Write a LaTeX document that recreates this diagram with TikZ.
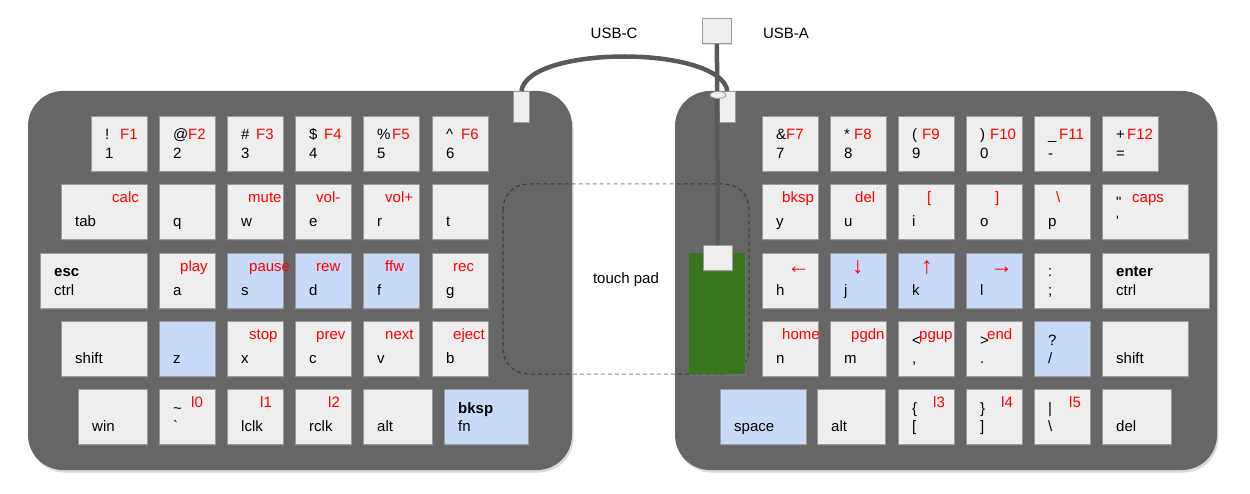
\documentclass[tikz,border=0pt]{standalone}
\usepackage{fontspec}
\setmainfont{Liberation Sans}
\usetikzlibrary{shadows}

% one key: name, left, top, width, fill, top legend, bottom legend, red legend, red offset
\newcommand{\kbkey}[9]{%
\node[keycap, fill=#5, minimum width=#4pt] (#1) at (#2,#3) {};
\node[legend] (#1-t) at ([shift={(14,24)}]#1.north west) {#6};
\node[legend] (#1-b) at ([shift={(14,42.5)}]#1.north west) {#7};
\node[legend, text=red] (#1-r) at ([shift={#9}]#1.north west) {#8};}
\newcommand{\bigarrow}[1]{{\fontsize{23}{24}\selectfont #1}}

\begin{document}
\begin{tikzpicture}[x=1pt, y=-1pt,
  board/.style={fill=boardc, rounded corners=35pt, drop shadow={opacity=0.3, shadow xshift=1.5pt, shadow yshift=-2.5pt}},
  keycap/.style={draw=keyline, line width=0.8pt, anchor=north west, minimum height=55pt, inner sep=0pt, drop shadow={opacity=0.4, shadow xshift=1pt, shadow yshift=-1.5pt}},
  legend/.style={anchor=base west, inner sep=0pt, font=\fontsize{15}{18}\selectfont},
  caption/.style={inner sep=0pt, font=\fontsize{15}{18}\selectfont},
  plug/.style={fill=keyc, draw=keyline, line width=0.8pt, anchor=north west, inner sep=0pt},
  cable/.style={draw=cablec, line width=4.5pt}]
\definecolor{boardc}{HTML}{666666}
\definecolor{keyc}{HTML}{EEEEEE}
\definecolor{bluec}{HTML}{C9DAF8}
\definecolor{keyline}{HTML}{999999}
\definecolor{cablec}{HTML}{595959}
\definecolor{greenc}{HTML}{38761D}
\useasboundingbox (0,0) rectangle (1250,494);

% boards
\fill[board] (28,91) rectangle (572,470);
\fill[board] (675,91) rectangle (1217,470);

% touch pad
\draw[black, draw opacity=0.45, line width=1pt, dash pattern=on 4pt off 3pt, rounded corners=25pt] (503,184) rectangle (749,374);
\node[caption] (pad) at (626,280) {touch pad};

% receiver and plugs
\node[fill=greenc, anchor=north west, minimum width=56pt, minimum height=121pt, inner sep=0pt, drop shadow={opacity=0.35, shadow xshift=1pt, shadow yshift=-1.5pt}] (dongle) at (689,253) {};
\node[plug, minimum width=16pt, minimum height=31pt] (plugL) at (513,91) {};
\node[plug, minimum width=16pt, minimum height=31pt] (plugR) at (719,91) {};
\node[plug, minimum width=29pt, minimum height=25pt, drop shadow={opacity=0.3, shadow xshift=1pt, shadow yshift=-1.5pt}] (usba) at (702,18) {};
\node[plug, minimum width=29pt, minimum height=25pt, drop shadow={opacity=0.3, shadow xshift=1pt, shadow yshift=-1.5pt}] (rx) at (703,245) {};
\draw[cable] (plugL.north) .. controls (528,45) and (720,45) .. (plugR.north);
\draw[cable] (usba.south) -- (rx.north);
\draw[fill=keyc, draw=keyline, line width=0.8pt] (718,95) ellipse [x radius=8, y radius=3.5];
\node[caption] (usbc) at (614,33) {USB-C};
\node[caption] (usbalabel) at (786,33) {USB-A};

% left half
\kbkey{k1}{91}{116}{56}{keyc}{!}{1}{F1}{(29,24)}
\kbkey{k2}{159}{116}{56}{keyc}{@}{2}{F2}{(29,24)}
\kbkey{k3}{227}{116}{56}{keyc}{\#}{3}{F3}{(29,24)}
\kbkey{k4}{295}{116}{56}{keyc}{\$}{4}{F4}{(29,24)}
\kbkey{k5}{363}{116}{56}{keyc}{\%}{5}{F5}{(29,24)}
\kbkey{k6}{432}{116}{56}{keyc}{\textasciicircum}{6}{F6}{(29,24)}
\kbkey{tab}{61}{184}{86}{keyc}{}{tab}{calc}{(51,18.5)}
\kbkey{q}{159}{184}{56}{keyc}{}{q}{}{(21,18.5)}
\kbkey{w}{227}{184}{56}{keyc}{}{w}{mute}{(21,18.5)}
\kbkey{e}{295}{184}{56}{keyc}{}{e}{vol-}{(21,18.5)}
\kbkey{r}{363}{184}{56}{keyc}{}{r}{vol+}{(22,18.5)}
\kbkey{t}{432}{184}{56}{keyc}{}{t}{}{(21,18.5)}
\kbkey{ctrlL}{40}{253}{107}{keyc}{\bfseries esc}{ctrl}{}{(21,18.5)}
\kbkey{a}{159}{253}{56}{keyc}{}{a}{play}{(21,18.5)}
\kbkey{s}{227}{253}{56}{bluec}{}{s}{pause}{(22,18.5)}
\kbkey{d}{295}{253}{56}{bluec}{}{d}{rew}{(21,18.5)}
\kbkey{f}{363}{253}{56}{bluec}{}{f}{ffw}{(22,18.5)}
\kbkey{g}{432}{253}{56}{keyc}{}{g}{rec}{(21,18.5)}
\kbkey{shiftL}{61}{321}{86}{keyc}{}{shift}{}{(21,18.5)}
\kbkey{z}{159}{321}{56}{bluec}{}{z}{}{(21,18.5)}
\kbkey{x}{227}{321}{56}{keyc}{}{x}{stop}{(22,18.5)}
\kbkey{c}{295}{321}{56}{keyc}{}{c}{prev}{(21,18.5)}
\kbkey{v}{363}{321}{56}{keyc}{}{v}{next}{(22,18.5)}
\kbkey{b}{432}{321}{56}{keyc}{}{b}{eject}{(21,18.5)}
\kbkey{win}{78}{389}{69}{keyc}{}{win}{}{(21,18.5)}
\kbkey{grave}{159}{389}{56}{keyc}{\textasciitilde}{\textasciigrave}{l0}{(32,18.5)}
\kbkey{lclk}{227}{389}{56}{keyc}{}{lclk}{l1}{(33,18.5)}
\kbkey{rclk}{295}{389}{56}{keyc}{}{rclk}{l2}{(33,18.5)}
\kbkey{altL}{363}{389}{69}{keyc}{}{alt}{}{(21,18.5)}
\kbkey{fn}{444}{389}{84}{bluec}{\bfseries bksp}{fn}{}{(21,18.5)}

% right half
\kbkey{k7}{762}{116}{56}{keyc}{\&}{7}{F7}{(24,24)}
\kbkey{k8}{830}{116}{56}{keyc}{*}{8}{F8}{(24,24)}
\kbkey{k9}{898}{116}{56}{keyc}{(}{9}{F9}{(24,24)}
\kbkey{k0}{966}{116}{56}{keyc}{)}{0}{F10}{(24,24)}
\kbkey{minus}{1034}{116}{56}{keyc}{\_}{-}{F11}{(25,24)}
\kbkey{equal}{1102}{116}{56}{keyc}{+}{=}{F12}{(25,24)}
\kbkey{y}{762}{184}{56}{keyc}{}{y}{bksp}{(20,18.5)}
\kbkey{u}{830}{184}{56}{keyc}{}{u}{del}{(25,18.5)}
\kbkey{i}{898}{184}{56}{keyc}{}{i}{[}{(29,18.5)}
\kbkey{o}{966}{184}{56}{keyc}{}{o}{]}{(29,18.5)}
\kbkey{p}{1034}{184}{56}{keyc}{}{p}{\textbackslash}{(22,18.5)}
\kbkey{quote}{1102}{184}{86}{keyc}{\textquotedbl}{\textquotesingle}{caps}{(30,18.5)}
\kbkey{h}{762}{253}{56}{keyc}{}{h}{\bigarrow{←}}{(25,21)}
\kbkey{j}{830}{253}{56}{bluec}{}{j}{\bigarrow{↓}}{(22,21)}
\kbkey{k}{898}{253}{56}{bluec}{}{k}{\bigarrow{↑}}{(23,21)}
\kbkey{l}{966}{253}{56}{bluec}{}{l}{\bigarrow{→}}{(24,21)}
\kbkey{semi}{1034}{253}{56}{keyc}{:}{;}{}{(21,18.5)}
\kbkey{enter}{1102}{253}{107}{keyc}{\bfseries enter}{ctrl}{}{(21,18.5)}
\kbkey{n}{762}{321}{56}{keyc}{}{n}{home}{(20,18.5)}
\kbkey{m}{830}{321}{56}{keyc}{}{m}{pgdn}{(21,18.5)}
\kbkey{comma}{898}{321}{56}{keyc}{<}{,}{pgup}{(21,18.5)}
\kbkey{period}{966}{321}{56}{keyc}{>}{.}{end}{(21,18.5)}
\kbkey{slash}{1034}{321}{56}{bluec}{?}{/}{}{(21,18.5)}
\kbkey{shiftR}{1102}{321}{86}{keyc}{}{shift}{}{(21,18.5)}
\kbkey{space}{720}{389}{86}{bluec}{}{space}{}{(21,18.5)}
\kbkey{altR}{817}{389}{68}{keyc}{}{alt}{}{(21,18.5)}
\kbkey{lbrace}{898}{389}{56}{keyc}{\{}{[}{l3}{(35,18.5)}
\kbkey{rbrace}{966}{389}{56}{keyc}{\}}{]}{l4}{(35,18.5)}
\kbkey{pipe}{1034}{389}{56}{keyc}{|}{\textbackslash}{l5}{(35,18.5)}
\kbkey{del}{1102}{389}{69}{keyc}{}{del}{}{(21,18.5)}
\end{tikzpicture}
\end{document}
